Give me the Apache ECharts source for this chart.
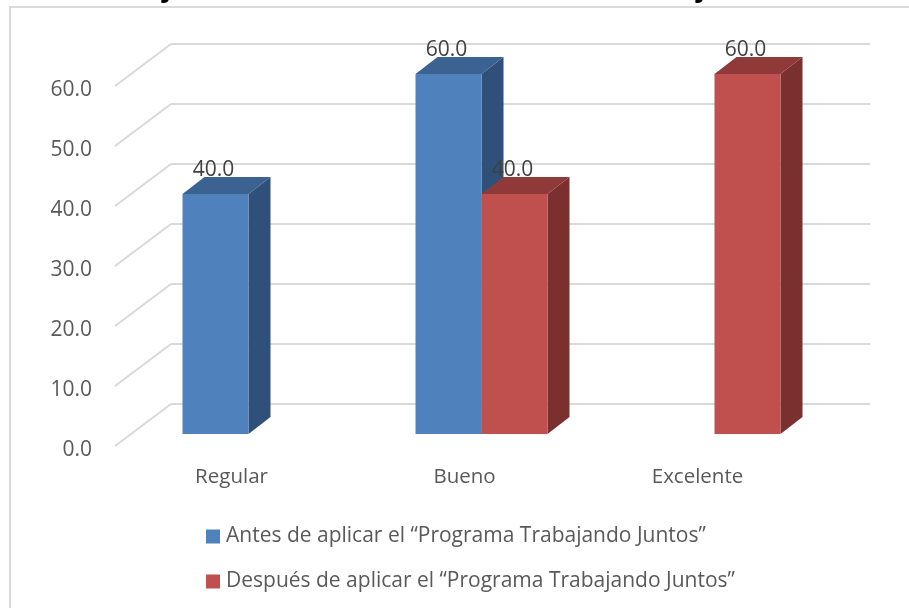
<!DOCTYPE html>
<html><head><meta charset="utf-8">
<style>html,body{margin:0;padding:0;background:#fff}#c{width:909px;height:608px}</style>
<script src="https://cdn.jsdelivr.net/npm/echarts@6/dist/echarts.min.js"></script>
</head><body><div id="c"></div>
<script>
const categories = ["Regular", "Bueno", "Excelente"];
const antes = [40, 60, null];
const despues = [null, 40, 60];
const yTicks = [0, 10, 20, 30, 40, 50, 60];
const seriesNames = ["Antes de aplicar el “Programa Trabajando Juntos”", "Después de aplicar el “Programa Trabajando Juntos”"];

const FONT = '"Open Sans"';
const wall = {dx: 56, dy: -42};
const floor = {dx: 17, dy: -12};
const depth = {dx: 22, dy: -17};
const BAR_FRAC = 66 / 233;
const palette = [
  {front: '#4F81BD', top: '#3B6290', side: '#2F5179'},
  {front: '#C0504D', top: '#8F3A38', side: '#7A302E'}
];

function poly(points, fill) {
  return {type: 'polygon', shape: {points}, style: {fill, stroke: null}};
}
function barSeries(name, values, idx) {
  const c = palette[idx];
  return {
    name, type: 'custom', clip: false, z: 5 + idx,
    itemStyle: {color: c.front},
    encode: {x: 0, y: 1},
    data: values.map((v, i) => v === null ? null : [i, v]).filter(Boolean),
    renderItem(params, api) {
      const top = api.coord([api.value(0), api.value(1)]);
      const base = api.coord([api.value(0), 0]);
      const w = api.size([1, 0])[0] * BAR_FRAC;
      const x0 = top[0] + floor.dx + (idx === 0 ? -w : 0), x1 = x0 + w;
      const yT = top[1] + floor.dy, yB = base[1] + floor.dy;
      const d = depth;
      return {type: 'group', children: [
        poly([[x1, yT], [x1 + d.dx, yT + d.dy], [x1 + d.dx, yB + d.dy], [x1, yB]], c.side),
        poly([[x0, yT], [x0 + d.dx, yT + d.dy], [x1 + d.dx, yT + d.dy], [x1, yT]], c.top),
        poly([[x0, yT], [x1, yT], [x1, yB], [x0, yB]], c.front),
        {type: 'text', z2: 50, style: {
          text: api.value(1).toFixed(1), x: (x0 + x1) / 2 - 2, y: yT - 24,
          align: 'center', verticalAlign: 'middle',
          font: '21px ' + FONT, fill: '#404040'
        }}
      ]};
    }
  };
}

const wallSeries = {
  name: 'walls', type: 'custom', clip: false, z: 1, silent: true,
  encode: {x: 0, y: 1},
  data: yTicks.map(t => [0, t]),
  renderItem(params, api) {
    const p = api.coord([0, api.value(1)]);
    const cs = params.coordSys;
    const s = {stroke: '#D9D9D9', lineWidth: 2, fill: null};
    return {type: 'group', children: [
      {type: 'line', shape: {x1: cs.x, y1: p[1], x2: cs.x + wall.dx, y2: p[1] + wall.dy}, style: s},
      {type: 'line', shape: {x1: cs.x + wall.dx, y1: p[1] + wall.dy, x2: cs.x + cs.width + wall.dx, y2: p[1] + wall.dy}, style: s}
    ]};
  }
};

function clipped(ch, x) {
  return {type: 'text', silent: true, style: {text: ch, x, y: -10, align: 'center', verticalAlign: 'middle',
    font: 'bold 26px ' + FONT, fill: '#000'}};
}

const chart = echarts.init(document.getElementById('c'), null, {renderer: 'canvas'});
chart.setOption({
  animation: false,
  backgroundColor: '#fff',
  grid: {left: 115, right: 95, top: 86, bottom: 162, containLabel: false},
  xAxis: {type: 'category', data: categories, axisLine: {show: false}, axisTick: {show: false},
    axisLabel: {color: '#595959', fontFamily: FONT, fontSize: 20.5, margin: 21}},
  yAxis: {type: 'value', min: 0, max: 60, interval: 10, axisLine: {show: false}, axisTick: {show: false},
    splitLine: {show: false},
    axisLabel: {color: '#595959', fontFamily: FONT, fontSize: 21, margin: 23, verticalAlign: 'top', lineHeight: 9, formatter: v => v.toFixed(1)}},
  legend: {
    data: seriesNames, orient: 'vertical', left: 201, top: 521, itemGap: 24,
    itemWidth: 14, itemHeight: 14, icon: 'rect',
    textStyle: {color: '#595959', fontFamily: FONT, fontSize: 21, padding: [0, 0, 0, 1]}
  },
  graphic: [
    {type: 'polyline', silent: true, shape: {points: [[10, 608], [10, 7], [909, 7]]},
      style: {stroke: '#D9D9D9', lineWidth: 2, fill: null}},
    clipped('j', 167), clipped('j', 701), clipped('y', -2)
  ],
  series: [wallSeries, barSeries(seriesNames[0], antes, 0), barSeries(seriesNames[1], despues, 1)]
});
</script></body></html>
